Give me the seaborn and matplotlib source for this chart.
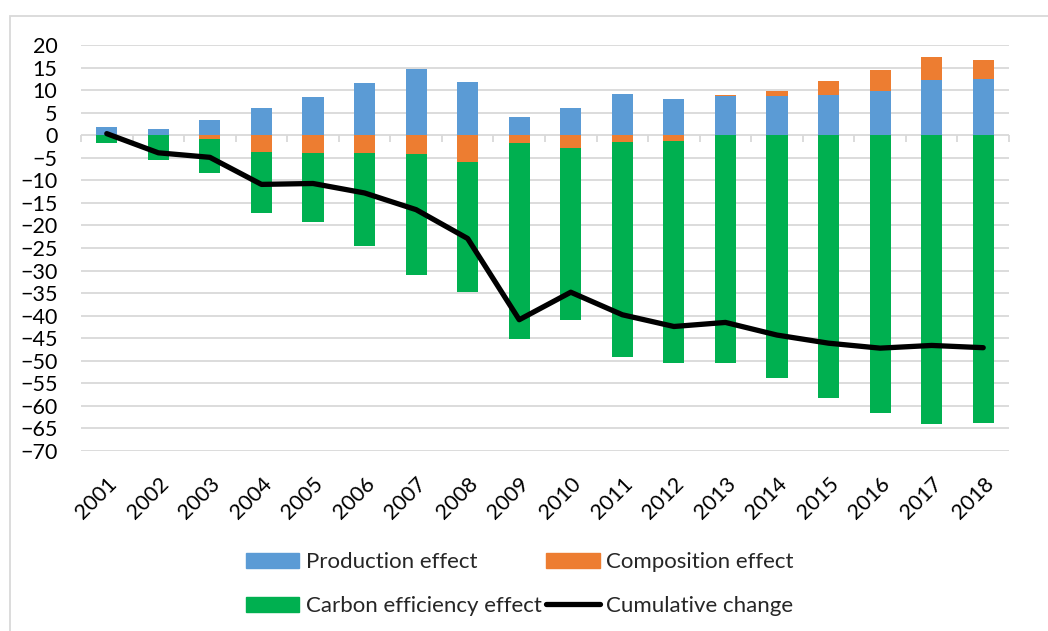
import numpy as np
import pandas as pd
import matplotlib
matplotlib.use("Agg")
import matplotlib.pyplot as plt
from matplotlib.patches import Rectangle, Patch
from matplotlib.lines import Line2D
import seaborn as sns

# Decomposition of the change in emissions, 2001-2018
years = [str(y) for y in range(2001, 2019)]
production = [1.9, 1.4, 3.4, 6.1, 8.4, 11.6, 14.6, 11.8, 4.1, 6.1,
              9.1, 8.0, 8.6, 8.7, 9.0, 9.8, 12.2, 12.4]
composition = [0.0, 0.0, -0.9, -3.8, -3.9, -3.9, -4.1, -5.85, -1.8, -2.9,
               -1.4, -1.2, 0.4, 1.0, 3.0, 4.6, 5.1, 4.2]
carbon_efficiency = [-1.8, -5.4, -7.5, -13.4, -15.4, -20.6, -26.9, -29.0, -43.3, -38.0,
                     -47.7, -49.2, -50.5, -53.9, -58.2, -61.6, -64.0, -63.7]
cumulative = [0.35, -3.9, -4.9, -10.9, -10.7, -12.8, -16.5, -22.9, -40.9, -34.8,
              -39.8, -42.4, -41.5, -44.3, -46.1, -47.2, -46.6, -47.1]

series_names = ["Production effect", "Composition effect", "Carbon efficiency effect"]
series_colors = ["#5B9BD5", "#ED7D31", "#00B050"]

df = pd.DataFrame({
    "year": years,
    series_names[0]: production,
    series_names[1]: composition,
    series_names[2]: carbon_efficiency,
    "Cumulative change": cumulative,
})
df["pos"] = np.arange(len(df))

sns.set_theme(style="white")
plt.rcParams["font.family"] = ["Lato", "DejaVu Sans"]

fig = plt.figure(figsize=(10.48, 6.31), dpi=100)
ax = fig.add_axes([81 / 1048, 1 - 451 / 631, 928 / 1048, 406 / 631])

# Stacked columns: positive parts stack upward, negative parts downward
pos_base = np.zeros(len(df))
neg_base = np.zeros(len(df))
for name, color in zip(series_names, series_colors):
    vals = df[name].to_numpy(dtype=float)
    base = np.where(vals >= 0, pos_base, neg_base)
    ax.bar(df["pos"], vals, bottom=base, width=0.41, color=color,
           edgecolor="none", zorder=3)
    pos_base = pos_base + np.clip(vals, 0, None)
    neg_base = neg_base + np.clip(vals, None, 0)

sns.lineplot(data=df, x="pos", y="Cumulative change", ax=ax, color="black",
             linewidth=3.8, solid_capstyle="round", zorder=4, legend=False)

ax.set_xlim(-0.5, len(df) - 0.5)
ax.set_ylim(-70, 20)
ax.set_yticks(np.arange(-70, 21, 5))
ax.set_xticks(df["pos"])
ax.set_xticklabels(df["year"], rotation=45, ha="right", rotation_mode="anchor")
ax.set_xlabel("")
ax.set_ylabel("")
ax.tick_params(axis="y", length=0, pad=17, labelsize=15.5, labelcolor="black")
ax.tick_params(axis="x", length=0, pad=16, labelsize=15.5, labelcolor="black")
ax.grid(axis="y", color="#d9d9d9", linewidth=1.3, zorder=0)
ax.grid(axis="x", visible=False)
for s in ax.spines.values():
    s.set_visible(False)

# Category axis drawn through zero, with tick marks between categories
zero_frac = 70 / 90
cat_axis = ax.secondary_xaxis(zero_frac)
cat_axis.set_xticks(np.arange(-0.5, len(df), 1.0))
cat_axis.set_xticklabels([])
cat_axis.tick_params(axis="x", direction="out", length=5, width=1.3,
                     color="#d9d9d9")
cat_axis.spines["bottom"].set_color("#d9d9d9")
cat_axis.spines["bottom"].set_linewidth(1.3)
cat_axis.spines["top"].set_visible(False)
cat_axis.xaxis.set_ticks_position("bottom")

# Legend: two rows, two columns
handles = [
    Patch(color=series_colors[0]),
    Patch(color=series_colors[2]),
    Patch(color=series_colors[1]),
    Line2D([0], [0], color="black", linewidth=3.8, solid_capstyle="round"),
]
labels = [series_names[0], series_names[2], series_names[1], "Cumulative change"]
fig.legend(handles, labels, ncol=2, loc="center", bbox_to_anchor=(520 / 1048, 1 - 584 / 631),
           frameon=False, fontsize=16, handlelength=2.4, handleheight=0.65,
           handletextpad=0.3, columnspacing=0.2, labelspacing=1.08)

# Light chart-area frame
fig.patches.append(Rectangle((10 / 1048, -0.2), 1.2, 1.2 - 16 / 631,
                             transform=fig.transFigure, fill=False,
                             edgecolor="#d9d9d9", linewidth=1.3))

fig.savefig("out.png", dpi=100)
